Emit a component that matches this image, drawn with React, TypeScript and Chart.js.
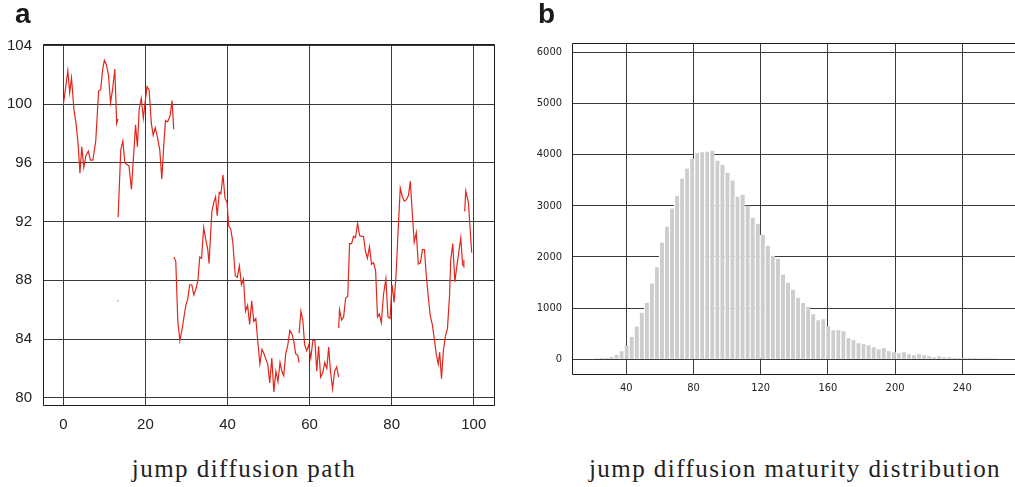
import { useEffect, useRef } from "react";
import { Chart, registerables } from "chart.js";

Chart.register(...registerables);

// Panel a: one simulated jump-diffusion path. A null price breaks the line,
// so the vertical move at each jump is not drawn.
const pathTimes = [
  0, 0.5, 1.1, 1.55, 2.0, 2.6, 3.1, 3.6, 4.05, 4.5, 5.0, 5.5, 6.1, 6.6, 7.2, 7.9, 8.6, 9.1, 9.6, 10.0,
  10.5, 11.0, 11.5, 12.0, 12.55, 13.0, 13.3, 13.3,
  13.2, 13.4, 13.4,
  13.35, 14.0, 14.5, 15.0, 15.5, 16.0, 16.6, 17.6, 18.05, 18.5, 19.0, 19.5, 20.0, 20.4, 20.9, 21.45,
  21.9, 22.4, 22.9, 23.5, 24.0, 24.45, 24.9, 25.4, 26.0, 26.5, 26.9, 26.9,
  26.95, 27.4, 27.9, 28.4, 28.9, 29.4, 29.85, 30.3, 30.8, 31.3, 31.8, 32.3, 32.8, 33.25, 33.7, 34.2,
  34.7, 35.2, 35.5, 36.2, 36.65, 37.1, 37.5, 38.0, 38.4, 38.9, 39.4, 39.9, 40.3, 40.8, 41.3, 41.9,
  42.4, 42.9, 43.4, 43.9, 44.4, 44.9, 45.4, 45.9, 46.4, 46.9, 47.4, 47.9, 48.4, 48.9, 49.4, 49.8,
  50.3, 50.8, 51.3, 51.8, 52.3, 52.8, 53.25, 53.7, 54.2, 54.7, 55.2, 55.7, 56.2, 56.6, 57.1, 57.45, 57.45,
  57.45, 57.9, 58.35, 58.8, 59.3, 59.8, 60.3, 60.8, 61.3, 61.75, 62.2, 62.7, 63.2, 63.7, 64.2, 64.65,
  65.1, 65.6, 66.1, 66.6, 67.1, 67.1,
  67.1, 67.3, 67.8, 68.3, 68.8, 69.3, 69.75, 70.25, 70.7, 71.2, 71.7, 72.2, 72.7, 73.15, 73.6, 74.1,
  74.6, 75.1, 75.6, 76.1, 76.55, 77.0, 77.5, 78.0, 78.6, 79.1, 79.6, 80.1, 80.6, 81.1, 81.55, 82.1,
  82.6, 83.1, 83.6, 84.1, 84.55, 85.05, 85.5, 86.0, 86.5, 87.0, 87.5, 88.0, 88.45, 88.9, 89.4, 89.9,
  90.4, 90.9, 91.35, 91.7, 92.15, 92.6, 93.1, 93.6, 94.1, 94.4, 94.9, 95.4, 95.9, 96.3, 96.85, 97.3, 97.3,
  97.5, 97.6, 97.6,
  97.8, 98.05, 98.7, 99.5,
];

const pathPrices = [
  100, 101.0, 102.3, 100.8, 101.8, 99.6, 98.7, 97.3, 95.3, 97.1, 95.7, 96.5, 96.8, 96.2, 96.2, 97.5, 100.9, 101.0, 102.4, 103.0,
  102.7, 102.0, 100.1, 101.0, 102.4, 98.7, 99.0, null,
  86.6, 86.6, null,
  92.3, 96.9, 97.5, 96.0, 95.9, 95.8, 94.2, 98.6, 97.1, 99.7, 100.4, 99.05, 100.3, 101.2, 101.0, 98.7,
  97.9, 98.4, 97.8, 96.9, 94.9, 97.1, 98.9, 98.8, 99.2, 100.25, 98.3, null,
  89.6, 89.3, 85.2, 83.9, 84.6, 85.5, 86.3, 86.7, 87.7, 87.7, 87.0, 87.4, 88.0, 89.6, 89.5, 91.6,
  90.8, 90.1, 89.15, 92.7, 93.3, 93.7, 92.4, 94.0, 93.9, 95.2, 93.6, 93.3, 91.7, 91.5, 90.6, 88.3,
  88.2, 89.0, 87.7, 88.1, 85.9, 86.3, 85.0, 86.6, 85.2, 85.4, 83.8, 82.3, 83.3, 83.0, 82.6, 82.3,
  81.0, 82.7, 80.4, 81.8, 81.1, 82.4, 81.8, 81.5, 83.0, 83.6, 84.6, 84.35, 83.8, 83.0, 82.9, 82.4, null,
  84.4, 85.9, 85.3, 83.6, 83.2, 83.6, 82.7, 83.9, 83.9, 81.8, 83.5, 81.4, 81.7, 82.4, 82.0, 83.45,
  81.8, 80.6, 81.8, 82.1, 81.4, null,
  84.75, 86.0, 85.3, 85.5, 86.8, 86.9, 90.5, 90.5, 91.0, 90.9, 91.9, 91.05, 91.0, 91.0, 90.0, 89.5,
  90.3, 89.1, 89.2, 88.65, 85.5, 85.7, 85.1, 87.0, 88.1, 85.5, 85.4, 87.7, 86.5, 88.5, 91.25, 94.3,
  93.7, 93.4, 93.5, 93.8, 94.75, 92.5, 90.6, 91.25, 89.1, 89.2, 90.1, 90.1, 88.3, 86.95, 85.6, 85.0,
  84.0, 82.9, 82.3, 83.1, 81.3, 83.2, 84.2, 84.7, 86.95, 89.4, 90.5, 87.9, 89.0, 89.8, 90.9, 89.0, null,
  88.9, 89.4, null,
  92.7, 94.1, 93.3, 89.9,
];

const pathXTicks = [0, 20, 40, 60, 80, 100];
const pathYTicks = [80, 84, 88, 92, 96, 100, 104];

// Panel b: histogram of maturity times, bin centres (width 3) and counts.
const maturityBins = [
  22, 25, 28, 31, 34, 37, 40, 43, 46, 49, 52, 55, 58, 61, 64, 67, 70, 73, 76, 79,
  82, 85, 88, 91, 94, 97, 100, 103, 106, 109, 112, 115, 118, 121, 124, 127, 130, 133, 136, 139,
  142, 145, 148, 151, 154, 157, 160, 163, 166, 169, 172, 175, 178, 181, 184, 187, 190, 193, 196, 199,
  202, 205, 208, 211, 214, 217, 220, 223, 226, 229, 232, 235, 238, 241, 244, 247, 250, 253, 256, 259,
];

const maturityCounts = [
  22, 24, 30, 50, 90, 155, 270, 440, 640, 910, 1105, 1480, 1800, 2280, 2590, 2945, 3190, 3530, 3725, 3920,
  4025, 4043, 4056, 4075, 3880, 3800, 3645, 3490, 3177, 3216, 3001, 2767, 2650, 2435, 2220, 2025, 1966, 1654, 1497, 1360,
  1200, 1098, 1020, 882, 765, 784, 647, 569, 569, 549, 412, 373, 314, 294, 275, 235, 196, 216, 157, 137,
  118, 137, 98, 78, 98, 78, 59, 39, 59, 39, 39, 25, 25, 24, 24, 24, 22, 22, 22, 22,
];

const maturityXTicks = [40, 80, 120, 160, 200, 240];
const maturityYTicks = [0, 1000, 2000, 3000, 4000, 5000, 6000];

const GRID = "#3a3a3a";
const FRAME = "#1a1a1a";
const LABEL = "#222222";

const align = (p: number) => Math.round(p - 0.5) + 0.5;

// Box around the plot area; `sides` picks which edges are stroked.
function framePlugin(sides: { left: boolean; top: boolean; right: boolean; bottom: boolean }) {
  return {
    id: "frame",
    afterDraw(chart: any) {
      const { ctx, chartArea: a } = chart;
      const l = align(a.left);
      const r = align(a.right);
      const t = align(a.top);
      const b = align(a.bottom);
      ctx.save();
      ctx.strokeStyle = FRAME;
      ctx.lineWidth = 1;
      ctx.beginPath();
      if (sides.left) { ctx.moveTo(l, t); ctx.lineTo(l, b); }
      if (sides.right) { ctx.moveTo(r, t); ctx.lineTo(r, b); }
      if (sides.top) { ctx.moveTo(l, t); ctx.lineTo(r, t); }
      if (sides.bottom) { ctx.moveTo(l, b); ctx.lineTo(r, b); }
      ctx.stroke();
      ctx.restore();
    },
  };
}

// The zero line stays visible under the histogram bars.
const zeroLinePlugin = {
  id: "zeroLine",
  afterDatasetsDraw(chart: any) {
    const { ctx, chartArea: a, scales } = chart;
    const y = align(scales.y.getPixelForValue(0));
    ctx.save();
    ctx.strokeStyle = GRID;
    ctx.lineWidth = 1;
    ctx.beginPath();
    ctx.moveTo(a.left, y);
    ctx.lineTo(a.right, y);
    ctx.stroke();
    ctx.restore();
  },
};

const setTicks = (values: number[]) => (scale: any) => {
  scale.ticks = values.map((value) => ({ value }));
};

export default function App() {
  const pathRef = useRef<HTMLCanvasElement>(null);
  const histRef = useRef<HTMLCanvasElement>(null);

  useEffect(() => {
    const pathFont = { family: "'Liberation Sans', Arial, sans-serif", size: 15 };
    const histFont = { family: "'Liberation Sans Narrow', 'DejaVu Sans Condensed', 'Liberation Sans', sans-serif", size: 11 };

    const pathChart = new Chart(pathRef.current!, {
      type: "line",
      data: {
        datasets: [
          {
            data: pathTimes.map((x, i) => ({ x, y: pathPrices[i] })) as any,
            borderColor: "rgb(226, 38, 28)",
            borderWidth: 1.2,
            pointRadius: 0,
            tension: 0,
            fill: false,
            spanGaps: false,
          },
        ],
      },
      options: {
        animation: false,
        responsive: false,
        devicePixelRatio: 1,
        layout: { padding: { top: 44, right: 6, left: 0, bottom: 0 } },
        plugins: { legend: { display: false }, tooltip: { enabled: false } },
        scales: {
          x: {
            type: "linear",
            min: -4.95,
            max: 104.94,
            afterBuildTicks: setTicks(pathXTicks),
            afterFit: (s: any) => { s.height = 34.5; },
            grid: { color: GRID, lineWidth: 1, drawTicks: false },
            border: { display: false },
            ticks: { padding: 10, color: LABEL, font: pathFont, maxRotation: 0, autoSkip: false, callback: (v: any) => String(v) },
          },
          y: {
            type: "linear",
            min: 79.47,
            max: 104.11,
            afterBuildTicks: setTicks(pathYTicks),
            afterFit: (s: any) => { s.width = 43; },
            grid: { color: GRID, lineWidth: 1, drawTicks: false },
            border: { display: false },
            ticks: { padding: 11, color: LABEL, font: pathFont, autoSkip: false, callback: (v: any) => String(v) },
          },
        },
      },
      plugins: [framePlugin({ left: true, top: true, right: true, bottom: true })],
    });

    const histChart = new Chart(histRef.current!, {
      type: "bar",
      data: {
        datasets: [
          {
            data: maturityBins.map((x, i) => ({ x, y: maturityCounts[i] })) as any,
            backgroundColor: "#cdcdcd",
            borderColor: "#ffffff",
            borderWidth: { left: 1.3, right: 0, top: 0, bottom: 0 },
            borderSkipped: false,
            barPercentage: 1,
            categoryPercentage: 1,
          },
        ],
      },
      options: {
        animation: false,
        responsive: false,
        devicePixelRatio: 1,
        layout: { padding: { top: 43, right: 0, left: 0, bottom: 0 } },
        plugins: { legend: { display: false }, tooltip: { enabled: false } },
        scales: {
          x: {
            type: "linear",
            offset: false,
            min: 7.68,
            max: 271.4,
            afterBuildTicks: setTicks(maturityXTicks),
            afterFit: (s: any) => { s.height = 46; },
            grid: { color: GRID, lineWidth: 1, drawTicks: false, offset: false },
            border: { display: false },
            ticks: { padding: 8, color: LABEL, font: histFont, maxRotation: 0, autoSkip: false, callback: (v: any) => String(v) },
          },
          y: {
            type: "linear",
            min: -287,
            max: 6178,
            afterBuildTicks: setTicks(maturityYTicks),
            afterFit: (s: any) => { s.width = 67; },
            grid: { color: GRID, lineWidth: 1, drawTicks: false },
            border: { display: false },
            ticks: { padding: 10, color: LABEL, font: histFont, autoSkip: false, callback: (v: any) => String(v) },
          },
        },
      },
      plugins: [zeroLinePlugin, framePlugin({ left: true, top: true, right: false, bottom: true })],
    });

    return () => {
      pathChart.destroy();
      histChart.destroy();
    };
  }, []);

  const panelLetter = {
    position: "absolute" as const,
    top: 0,
    fontFamily: "'Liberation Sans', Arial, sans-serif",
    fontWeight: 700,
    fontSize: 28,
    lineHeight: "28px",
    color: "#1a1a1a",
  };
  const caption = {
    position: "absolute" as const,
    top: 456,
    width: 560,
    fontFamily: "'Liberation Serif', 'Times New Roman', serif",
    fontSize: 25,
    lineHeight: "25px",
    letterSpacing: "1.45px",
    color: "#222",
    textAlign: "center" as const,
    whiteSpace: "nowrap" as const,
  };

  return (
    <div style={{ position: "absolute", left: 0, top: 0, width: 1015, height: 487, background: "#fff", overflow: "hidden" }}>
      <canvas ref={pathRef} width={500} height={440} style={{ position: "absolute", left: 0, top: 0, width: 500, height: 440 }} />
      <canvas ref={histRef} width={510} height={420} style={{ position: "absolute", left: 505, top: 0, width: 510, height: 420 }} />
      <div style={{ ...panelLetter, left: 15 }}>a</div>
      <div style={{ ...panelLetter, left: 538 }}>b</div>
      <div style={{ ...caption, left: 243 - 280 + 1 }}>jump diffusion path</div>
      <div style={{ ...caption, left: 794 - 280 + 1 }}>jump diffusion maturity distribution</div>
    </div>
  );
}
